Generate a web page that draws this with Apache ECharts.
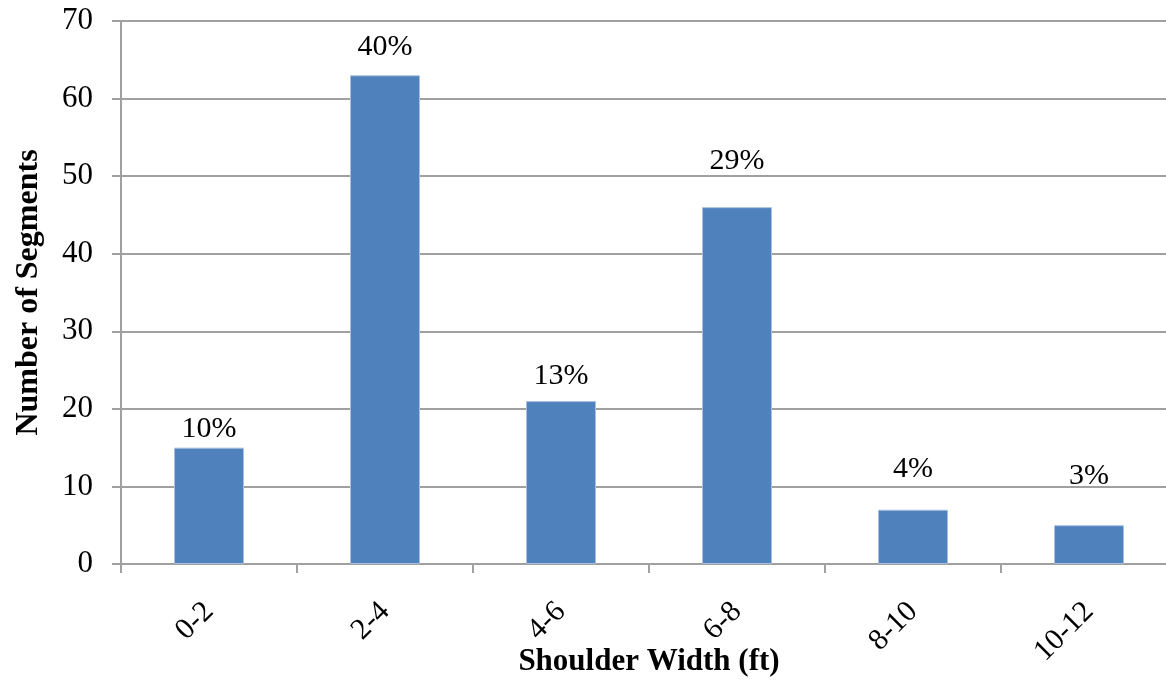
<!DOCTYPE html>
<html>
<head>
<meta charset="utf-8">
<script src="https://cdn.jsdelivr.net/npm/echarts@6/dist/echarts.min.js"></script>
<style>
html,body{margin:0;padding:0;background:#fff;}
#chart{width:1166px;height:686px;}
</style>
</head>
<body>
<div id="chart"></div>
<script>
const categories = ['0-2', '2-4', '4-6', '6-8', '8-10', '10-12'];
const segmentCounts = [15, 63, 21, 46, 7, 5];
const percentLabels = ['10%', '40%', '13%', '29%', '4%', '3%'];
const yTicks = [0, 10, 20, 30, 40, 50, 60, 70];

// label gaps above bars (style, as in reference)
const labelGaps = [4, 13, 10, 31, 26, 34];

const FONT = '"Liberation Serif", "Times New Roman", serif';
const GRID_COLOR = '#a0a0a0';

const chart = echarts.init(document.getElementById('chart'), null, {renderer: 'canvas'});
chart.setOption({
  animation: false,
  backgroundColor: '#ffffff',
  grid: {left: 121, right: -11, top: 21, bottom: 122, containLabel: false, outerBoundsMode: 'none'},
  xAxis: {
    type: 'category',
    data: categories,
    boundaryGap: true,
    name: 'Shoulder Width (ft)',
    nameLocation: 'middle',
    nameGap: 82,
    nameMoveOverlap: false,
    nameTextStyle: {fontFamily: FONT, fontSize: 31, fontWeight: 'bold', color: '#000'},
    axisLine: {show: true, lineStyle: {color: GRID_COLOR, width: 2}},
    axisTick: {show: true, length: 9, alignWithLabel: false, lineStyle: {color: GRID_COLOR, width: 2}},
    axisLabel: {rotate: 45, margin: 43, fontFamily: FONT, fontSize: 30, color: '#000', interval: 0}
  },
  yAxis: {
    type: 'value',
    min: yTicks[0],
    max: yTicks[yTicks.length - 1],
    interval: yTicks[1] - yTicks[0],
    name: 'Number of Segments',
    nameLocation: 'middle',
    nameRotate: 90,
    nameGap: 76,
    nameMoveOverlap: false,
    nameTextStyle: {fontFamily: FONT, fontSize: 32, fontWeight: 'bold', color: '#000'},
    axisLine: {show: true, lineStyle: {color: GRID_COLOR, width: 2}},
    axisTick: {show: true, length: 9, lineStyle: {color: GRID_COLOR, width: 2}},
    axisLabel: {margin: 28, fontFamily: FONT, fontSize: 31, color: '#000'},
    splitLine: {show: true, lineStyle: {color: GRID_COLOR, width: 2}}
  },
  series: [{
    type: 'bar',
    barWidth: 70,
    data: segmentCounts.map((v, i) => ({
      value: v,
      label: {distance: labelGaps[i]}
    })),
    itemStyle: {color: '#4F81BD', borderColor: '#a9c1e0', borderWidth: 1},
    label: {
      show: true,
      position: 'top',
      fontFamily: FONT,
      fontSize: 30,
      color: '#000',
      formatter: p => percentLabels[p.dataIndex]
    }
  }]
});
</script>
</body>
</html>
